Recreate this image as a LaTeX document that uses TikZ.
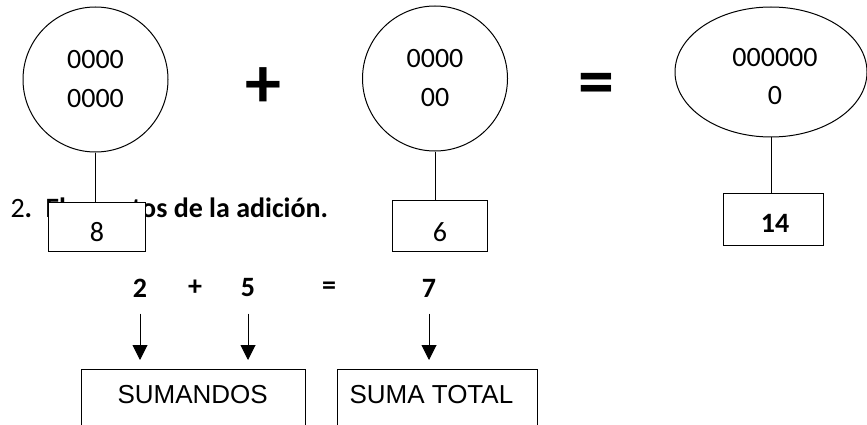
\documentclass[tikz,border=0pt]{standalone}
\usepackage{fontspec}
\setmainfont{Carlito}
\newfontfamily\arialf{Liberation Sans}
\usetikzlibrary{arrows.meta,shapes.geometric}
\begin{document}
\begin{tikzpicture}[x=1pt,y=-1pt,line width=1pt,
  circ/.style={draw,circle,minimum size=145pt,inner sep=0pt,align=center,font=\fontsize{28}{39}\selectfont},
  ell/.style={draw,ellipse,minimum width=192pt,minimum height=130pt,inner sep=0pt},
  valbox/.style={draw,fill=white,rectangle,inner sep=0pt},
  numtxt/.style={inner sep=0pt,font=\fontsize{28}{34}\selectfont},
  eqtxt/.style={inner sep=0pt,font=\bfseries\fontsize{28}{34}\selectfont},
  bigop/.style={inner sep=0pt,font=\bfseries\fontsize{72}{80}\selectfont},
  labbox/.style={draw,rectangle,inner sep=0pt,minimum height=90pt,anchor=north},
  labtxt/.style={inner sep=0pt,font=\arialf\fontsize{26}{30}\selectfont},
  arr/.style={-{Triangle[length=15pt,width=15pt]},line width=1pt}]
\useasboundingbox (0,0) rectangle (867,425);
\clip (0,0) rectangle (867,425);
% heading (partly hidden by box 8)
\node[anchor=base west,inner sep=0pt,font=\fontsize{28}{34}\selectfont] (hnum) at (10,217) {2\textbf{.}};
\node[anchor=base west,inner sep=0pt,font=\bfseries\fontsize{28}{34}\selectfont] (head) at (45,217) {Elementos de la adición.};
% top row
\node[circ] (c1) at (95.5,79.5) {0000\\0000};
\node[circ] (c2) at (435,78.5) {0000\\00};
\node[ell] (c3) at (771,72) {};
\node[inner sep=0pt,align=center,font=\fontsize{28}{38}\selectfont] (c3t) at (775,77) {000000\\0};
\node[bigop] (plus) at (263.5,87.5) {+};
\node[bigop] (eq) at (596,89) {=};
\node[valbox,minimum width=97pt,minimum height=49pt] (b1) at (96.5,226.5) {};
\node[valbox,minimum width=95pt,minimum height=51pt] (b2) at (439.5,225.5) {};
\node[valbox,minimum width=100pt,minimum height=52pt] (b3) at (773,219) {};
\node[numtxt] (t1) at (97,232) {8};
\node[numtxt] (t2) at (440,232) {6};
\node[numtxt,font=\bfseries\fontsize{28}{34}\selectfont] (t3) at (775,223) {14};
\draw (c1.south) -- (c1.south |- b1.north);
\draw (c2.south) -- (c2.south |- b2.north);
\draw (c3.south) -- (c3.south |- b3.north);
% bottom equation
\node[eqtxt] (n2) at (140,288) {2};
\node[eqtxt] (np) at (195,288) {+};
\node[eqtxt] (n5) at (248,288) {5};
\node[eqtxt] (ne) at (329,288) {=};
\node[eqtxt] (n7) at (429,288) {7};
\node[labbox,minimum width=224pt] (sum) at (193,369) {};
\node[labbox,minimum width=200pt] (tot) at (437,369) {};
\node[labtxt,anchor=west] (sumt) at (117,395) {SUMANDOS};
\node[labtxt,anchor=west] (tott) at (349,395) {SUMA TOTAL};
\draw[arr,shorten <=16pt,shorten >=9pt] (n2.south) -- (n2.south |- sum.north);
\draw[arr,shorten <=16pt,shorten >=9pt] (n5.south) -- (n5.south |- sum.north);
\draw[arr,shorten <=16pt,shorten >=9pt] (n7.south) -- (n7.south |- tot.north);
\end{tikzpicture}
\end{document}
